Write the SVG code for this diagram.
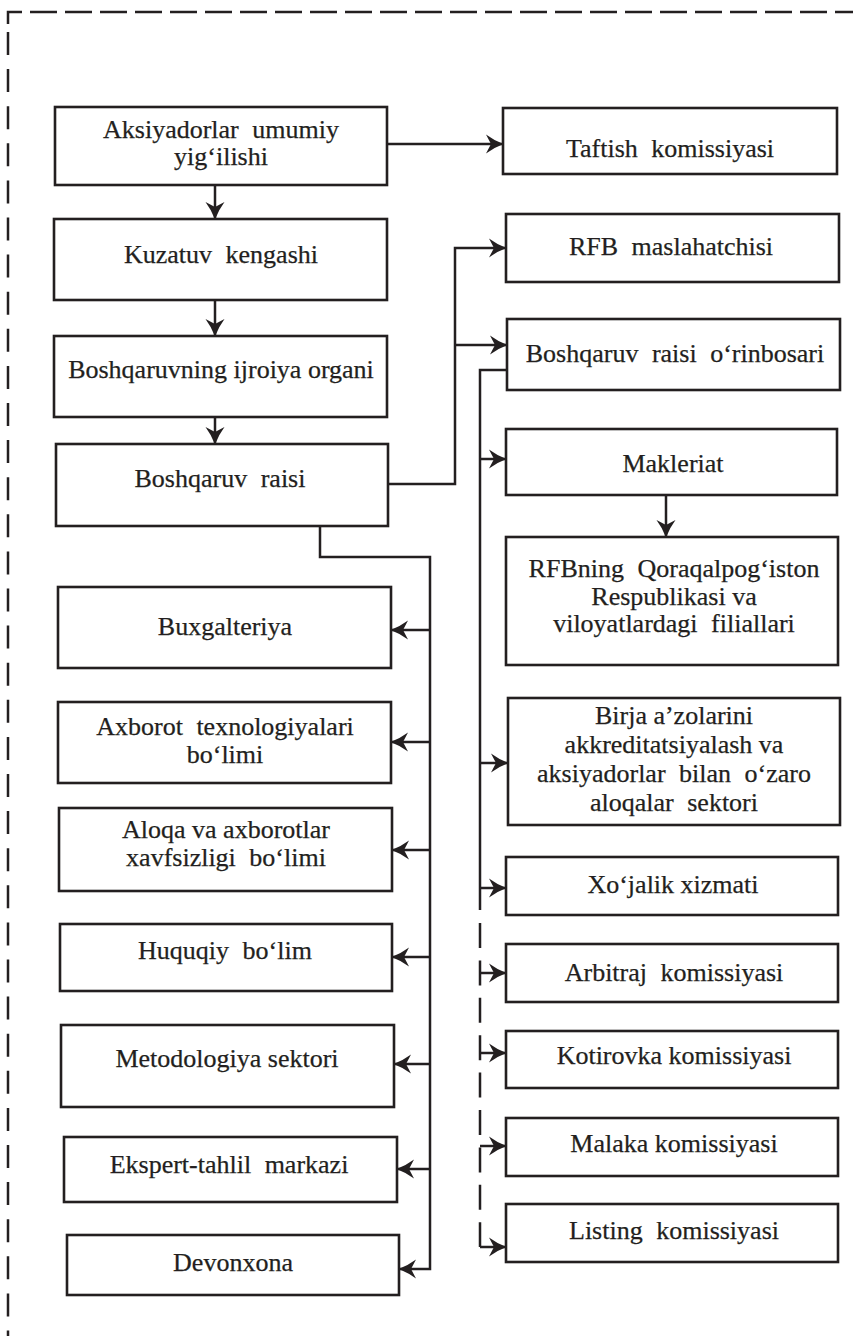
<svg xmlns="http://www.w3.org/2000/svg" width="853" height="1336" viewBox="0 0 853 1336">
<style>
.box{fill:#fff;stroke:#231f20;stroke-width:2.6}
.t{font-family:"Liberation Serif","Times New Roman",serif;font-size:26px;fill:#231f20;stroke:#231f20;stroke-width:0.25;text-anchor:middle}
.ws{word-spacing:7px}
.ln{fill:none;stroke:#231f20;stroke-width:2.5}
.ar{fill:none;stroke:#231f20;stroke-width:2.5;marker-end:url(#ah)}
.dash{fill:none;stroke:#231f20;stroke-width:2.5}
</style>
<defs>
<marker id="ah" markerUnits="userSpaceOnUse" viewBox="-18 -10 19 20" refX="0" refY="0" markerWidth="19" markerHeight="20" orient="auto">
<path d="M0.5,0 Q-9,-3.5 -17,-9.5 L-12,0 L-17,9.5 Q-9,3.5 0.5,0 Z" fill="#231f20"/>
</marker>
</defs>
<rect width="853" height="1336" fill="#fff"/>
<g id="border">
<path class="dash" d="M8,24 V12 H22"/>
<path class="dash" d="M30,12 H853" stroke-dasharray="27 8"/>
<path class="dash" d="M8,32 V1336" stroke-dasharray="23 14.1"/>
</g>
<g id="connectors">
<path class="ar" d="M387,144 H503"/>
<path class="ar" d="M215,185 V219"/>
<path class="ar" d="M215,300 V336"/>
<path class="ar" d="M215,417 V444"/>
<path class="ar" d="M388,484 H455 V248 H506"/>
<path class="ar" d="M455,345 H507"/>
<path class="ln" d="M507,370 H480 V910"/>
<path class="ar" d="M480,459 H506"/>
<path class="ar" d="M480,763 H508"/>
<path class="ar" d="M480,888 H506"/>
<path class="dash" d="M480,923 V1247" stroke-dasharray="25 12.4"/>
<path class="ar" d="M480,973 H506"/>
<path class="ar" d="M480,1053 H506"/>
<path class="ar" d="M480,1146 H506"/>
<path class="ar" d="M480,1247 H506"/>
<path class="ar" d="M666,495 V537"/>
<path class="ar" d="M320,526 V557 H430 V1269 H399"/>
<path class="ar" d="M430,630 H391"/>
<path class="ar" d="M430,742 H391"/>
<path class="ar" d="M430,850 H392"/>
<path class="ar" d="M430,957 H392"/>
<path class="ar" d="M430,1064 H394"/>
<path class="ar" d="M430,1169 H397"/>
</g>
<g id="n-aksiyadorlar"><rect class="box" x="55" y="107" width="332" height="78"/><text class="t ws" x="221" y="138">Aksiyadorlar umumiy</text><text class="t" x="221" y="165">yig‘ilishi</text></g>
<g id="n-taftish"><rect class="box" x="503" y="108" width="334" height="66"/><text class="t ws" x="670" y="157">Taftish komissiyasi</text></g>
<g id="n-kuzatuv"><rect class="box" x="54" y="219" width="333" height="81"/><text class="t ws" x="221" y="263">Kuzatuv kengashi</text></g>
<g id="n-ijroiya"><rect class="box" x="54" y="336" width="333" height="81"/><text class="t" x="221" y="378">Boshqaruvning ijroiya organi</text></g>
<g id="n-raisi"><rect class="box" x="56" y="444" width="332" height="82"/><text class="t ws" x="220" y="487">Boshqaruv raisi</text></g>
<g id="n-rfb-maslahatchisi"><rect class="box" x="506" y="214" width="333" height="68"/><text class="t ws" x="671" y="255">RFB maslahatchisi</text></g>
<g id="n-orinbosari"><rect class="box" x="507" y="319" width="333" height="71"/><text class="t ws" x="675" y="362">Boshqaruv raisi o‘rinbosari</text></g>
<g id="n-makleriat"><rect class="box" x="506" y="429" width="331" height="66"/><text class="t" x="673" y="472">Makleriat</text></g>
<g id="n-filiallar"><rect class="box" x="506" y="537" width="332" height="128"/><text class="t ws" x="674" y="577">RFBning Qoraqalpog‘iston</text><text class="t" x="674" y="605">Respublikasi va</text><text class="t ws" x="674" y="632">viloyatlardagi filiallari</text></g>
<g id="n-birja"><rect class="box" x="508" y="698" width="332" height="127"/><text class="t" x="674" y="724">Birja a’zolarini</text><text class="t" x="674" y="753">akkreditatsiyalash va</text><text class="t ws" x="674" y="782">aksiyadorlar bilan o‘zaro</text><text class="t ws" x="674" y="811">aloqalar sektori</text></g>
<g id="n-xojalik"><rect class="box" x="506" y="857" width="332" height="58"/><text class="t" x="673" y="893">Xo‘jalik xizmati</text></g>
<g id="n-arbitraj"><rect class="box" x="506" y="944" width="332" height="58"/><text class="t ws" x="674" y="981">Arbitraj komissiyasi</text></g>
<g id="n-kotirovka"><rect class="box" x="506" y="1031" width="332" height="57"/><text class="t" x="674" y="1064">Kotirovka komissiyasi</text></g>
<g id="n-malaka"><rect class="box" x="506" y="1118" width="332" height="58"/><text class="t" x="674" y="1152">Malaka komissiyasi</text></g>
<g id="n-listing"><rect class="box" x="506" y="1204" width="332" height="58"/><text class="t ws" x="674" y="1239">Listing komissiyasi</text></g>
<g id="n-buxgalteriya"><rect class="box" x="58" y="587" width="333" height="81"/><text class="t" x="225" y="635">Buxgalteriya</text></g>
<g id="n-axborot"><rect class="box" x="58" y="702" width="333" height="81"/><text class="t ws" x="225" y="735">Axborot texnologiyalari</text><text class="t" x="225" y="763">bo‘limi</text></g>
<g id="n-aloqa"><rect class="box" x="59" y="808" width="333" height="83"/><text class="t" x="226" y="838">Aloqa va axborotlar</text><text class="t ws" x="226" y="866">xavfsizligi bo‘limi</text></g>
<g id="n-huquqiy"><rect class="box" x="60" y="924" width="332" height="67"/><text class="t ws" x="225" y="959">Huquqiy bo‘lim</text></g>
<g id="n-metodologiya"><rect class="box" x="61" y="1025" width="333" height="82"/><text class="t" x="227" y="1067">Metodologiya sektori</text></g>
<g id="n-ekspert"><rect class="box" x="64" y="1137" width="333" height="65"/><text class="t ws" x="229" y="1173">Ekspert-tahlil markazi</text></g>
<g id="n-devonxona"><rect class="box" x="67" y="1235" width="332" height="60"/><text class="t" x="233" y="1271">Devonxona</text></g>
</svg>
